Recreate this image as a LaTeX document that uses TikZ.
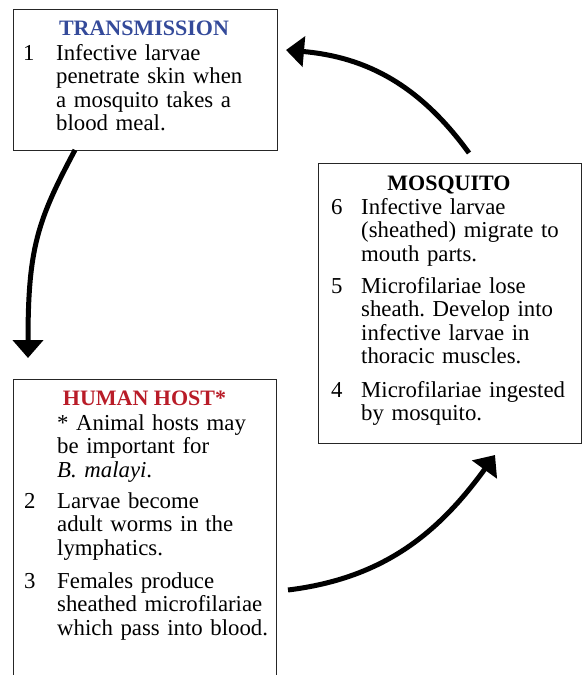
\documentclass[tikz,border=0pt]{standalone}
\usepackage{fontspec}
\setmainfont{Liberation Serif}
\usepackage{xcolor}
\usepackage{tikz}
\usetikzlibrary{arrows.meta, positioning}
\frenchspacing
\definecolor{transblue}{RGB}{52,74,154}
\definecolor{hostred}{RGB}{185,28,40}
\tikzset{
    stagebox/.style={
        rectangle,
        draw=black!85,
        line width=1pt,
        anchor=north west,
        inner sep=0pt
    },
    stagetitle/.style={
        anchor=base,
        inner sep=0pt,
        font=\fontsize{22}{23}\selectfont\bfseries
    },
    stepnum/.style={
        anchor=base west,
        inner sep=0pt,
        font=\fontsize{22.8}{23.5}\selectfont
    },
    steptext/.style={
        anchor=base west,
        inner sep=0pt,
        align=left,
        text width=222pt,
        font=\fontsize{22.8}{23.5}\selectfont
    },
    cycleline/.style={
        -{Triangle[length=18pt,width=30pt]},
        line width=5pt
    }
}

\begin{document}
\begin{tikzpicture}[x=1pt, y=1pt]
    \useasboundingbox (0,0) rectangle (584,-675);

    % the three stages
    \node[stagebox, minimum width=264pt, minimum height=141pt] (trans) at (12.5,-8.5) {};
    \node[stagebox, minimum width=263pt, minimum height=280pt] (mosq) at (317.5,-162.5) {};
    \node[stagebox, minimum width=263pt, minimum height=330pt] (host) at (13,-379) {};

    % transmission
    \node[stagetitle, text=transblue] (transtitle) at (144,-35.5) {TRANSMISSION};
    \node[stepnum] (num1) at (23,-60) {1};
    \node[steptext] (step1) at (56,-60) {Infective larvae\\penetrate skin when\\a mosquito takes a\\blood meal.};

    % mosquito
    \node[stagetitle] (mosqtitle) at (449,-190) {MOSQUITO};
    \node[stepnum] (num6) at (331,-214) {6};
    \node[steptext] (step6) at (361,-214) {Infective larvae\\(sheathed) migrate to\\mouth parts.};
    \node[stepnum] (num5) at (331,-293) {5};
    \node[steptext] (step5) at (361,-293) {Microfilariae lose\\sheath. Develop into\\infective larvae in\\thoracic muscles.};
    \node[stepnum] (num4) at (331,-397) {4};
    \node[steptext] (step4) at (361,-397) {Microfilariae ingested\\by mosquito.};

    % human host
    \node[stagetitle, text=hostred] (hosttitle) at (144.5,-405.5) {HUMAN HOST*};
    \node[steptext] (hostnote) at (57,-430) {* Animal hosts may\\be important for\\\textit{B. malayi}.};
    \node[stepnum] (num2) at (24,-508) {2};
    \node[steptext] (step2) at (57,-508) {Larvae become\\adult worms in the\\lymphatics.};
    \node[stepnum] (num3) at (24,-588) {3};
    \node[steptext] (step3) at (57,-588) {Females produce\\sheathed microfilariae\\which pass into blood.};

    % free ends of the cycle arrows
    \coordinate (transout) at (75,-150);
    \coordinate (hostin) at (28,-358);
    \coordinate (hostout) at (288,-590);
    \coordinate (mosqin) at (495,-455);
    \coordinate (mosqout) at (469,-153);
    \coordinate (transin) at (286,-50);

    \draw[cycleline] (transout) .. controls +(-118:80) and +(0,110) .. (hostin);
    \draw[cycleline] (hostout) to[out=7, in=234] (mosqin);
    \draw[cycleline] (mosqout) to[out=126, in=-5] (transin);
\end{tikzpicture}
\end{document}
